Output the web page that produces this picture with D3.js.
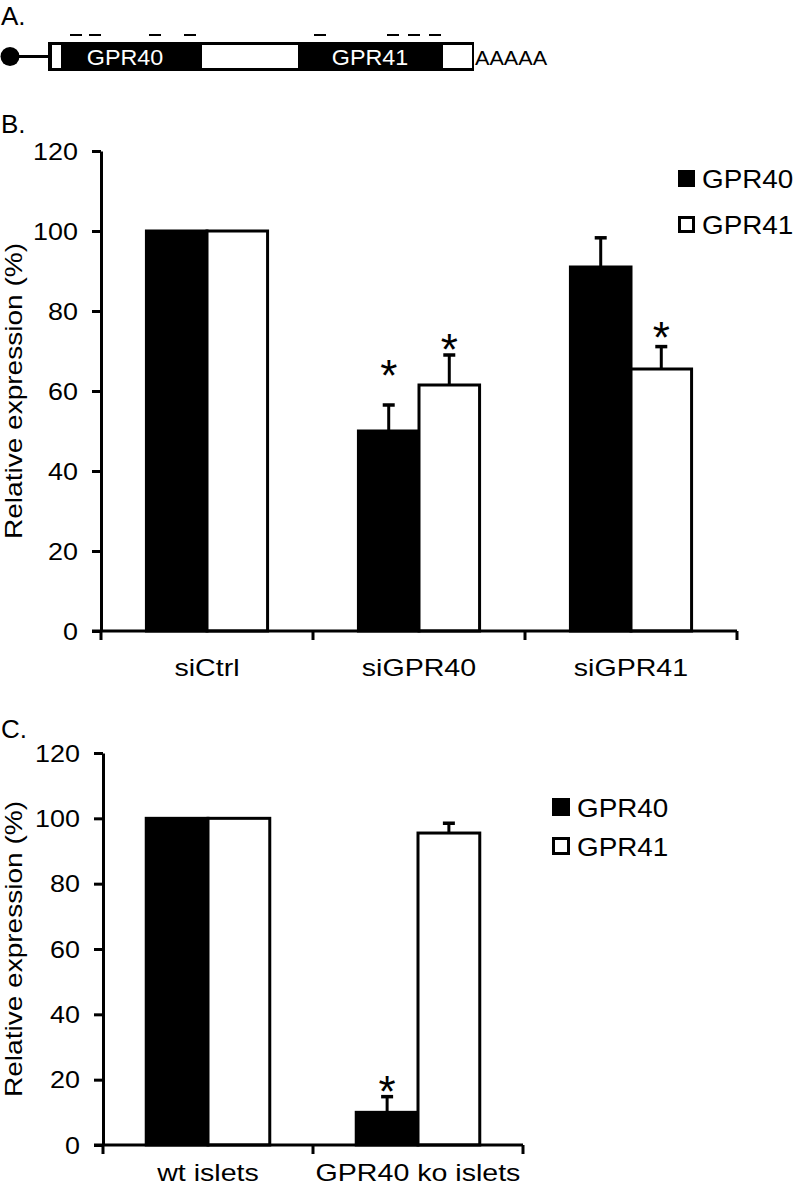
<!DOCTYPE html>
<html><head><meta charset="utf-8">
<script src="https://cdn.jsdelivr.net/npm/d3@7"></script>
<style>
body{margin:0;background:#fff;}
svg text{font-family:"Liberation Sans",Arial,Helvetica,sans-serif;fill:#000;}
</style></head>
<body><svg id="c" width="801" height="1186"></svg>
<script>
// ---------- data ----------
const seriesNames = ["GPR40", "GPR41"];
const yTicks = [0, 20, 40, 60, 80, 100, 120];

const categoriesB = ["siCtrl", "siGPR40", "siGPR41"];
const gpr40B = [100, 50, 91];
const gpr41B = [100, 61.5, 65.5];
const gpr40BErr = [0, 6.5, 7.3];
const gpr41BErr = [0, 7.5, 5.6];
const gpr40BStar = [null, 66.5, null];
const gpr41BStar = [null, 72.8, 76];

const categoriesC = ["wt islets", "GPR40 ko islets"];
const gpr40C = [100, 10];
const gpr41C = [100, 95.5];
const gpr40CErr = [0, 4.8];
const gpr41CErr = [0, 3];
const gpr40CStar = [null, 19.5];
const gpr41CStar = [null, null];

// schematic (panel A), transcript coordinates
const transcriptLen = 426;
const whiteSegs = [[4, 13], [154, 250], [395, 424]];
const geneLabels = [{t: "GPR40", c: 77}, {t: "GPR41", c: 322}];
const sirnaMarks = [22, 41, 101, 136, 266, 339, 360, 381];

// ---------- drawing ----------
const svg = d3.select("#c");
const FONT = '"Liberation Sans",Arial,Helvetica,sans-serif';

function stretch(sel, f) {
  sel.each(function() {
    const w = this.getComputedTextLength();
    d3.select(this).attr("textLength", w * f).attr("lengthAdjust", "spacingAndGlyphs");
  });
}

// Panel letters
svg.append("text").attr("x", 1).attr("y", 25).attr("font-size", 26).text("A.");
svg.append("text").attr("x", 1).attr("y", 133).attr("font-size", 26).text("B.");
svg.append("text").attr("x", 1).attr("y", 738).attr("font-size", 26).text("C.");

// ---------- Panel A ----------
(function(){
  const xs = d3.scaleLinear().domain([0, transcriptLen]).range([48, 474]);
  const top = 42, h = 29, midY = top + h / 2;
  const g = svg.append("g");
  g.append("line").attr("x1", 12).attr("x2", xs(0)).attr("y1", midY).attr("y2", midY)
    .attr("stroke", "#000").attr("stroke-width", 3);
  g.append("circle").attr("cx", 10).attr("cy", midY).attr("r", 9.5).attr("fill", "#000");
  g.append("rect").attr("x", xs(0)).attr("y", top).attr("width", xs(transcriptLen) - xs(0))
    .attr("height", h).attr("fill", "#000");
  g.selectAll("rect.w").data(whiteSegs).join("rect").attr("class", "w")
    .attr("x", d => xs(d[0])).attr("y", top + 3).attr("width", d => xs(d[1]) - xs(d[0]))
    .attr("height", h - 6).attr("fill", "#fff");
  const gl = g.selectAll("text.gl").data(geneLabels).join("text").attr("class", "gl")
    .attr("x", d => xs(d.c)).attr("y", midY + 8).attr("text-anchor", "middle")
    .attr("font-size", 22).style("fill", "#fff").text(d => d.t);
  stretch(gl, 1.06);
  const aa = g.append("text").attr("x", xs(transcriptLen) + 1).attr("y", midY + 8)
    .attr("font-size", 21).text("AAAAA");
  stretch(aa, 1.03);
  g.selectAll("line.m").data(sirnaMarks).join("line").attr("class", "m")
    .attr("x1", d => xs(d)).attr("x2", d => xs(d) + 12).attr("y1", 35).attr("y2", 35)
    .attr("stroke", "#000").attr("stroke-width", 2);
})();

// ---------- bar chart helper ----------
function barChart(opt) {
  const g = svg.append("g");
  const x = d3.scaleBand().domain(opt.categories).range([opt.x0, opt.x1]).padding(0);
  const xi = d3.scaleBand().domain(seriesNames).range([0, x.bandwidth()])
    .paddingInner(0).paddingOuter(opt.po);
  const y = d3.scaleLinear().domain([0, 120]).range([opt.y0, opt.y1]);

  const rows = [];
  opt.categories.forEach((c, i) => {
    rows.push({c, s: "GPR40", v: opt.v40[i], e: opt.e40[i], st: opt.s40[i]});
    rows.push({c, s: "GPR41", v: opt.v41[i], e: opt.e41[i], st: opt.s41[i]});
  });

  const eb = rows.filter(d => d.e > 0);
  g.selectAll("line.eb").data(eb).join("line").attr("class", "eb")
    .attr("x1", d => x(d.c) + xi(d.s) + xi.bandwidth() / 2)
    .attr("x2", d => x(d.c) + xi(d.s) + xi.bandwidth() / 2)
    .attr("y1", d => y(d.v)).attr("y2", d => y(d.v + d.e))
    .attr("stroke", "#000").attr("stroke-width", 3);
  g.selectAll("line.cap").data(eb).join("line").attr("class", "cap")
    .attr("x1", d => x(d.c) + xi(d.s) + xi.bandwidth() / 2 - 6)
    .attr("x2", d => x(d.c) + xi(d.s) + xi.bandwidth() / 2 + 6)
    .attr("y1", d => y(d.v + d.e)).attr("y2", d => y(d.v + d.e))
    .attr("stroke", "#000").attr("stroke-width", 3.5);

  g.selectAll("rect.bar").data(rows).join("rect").attr("class", "bar")
    .attr("x", d => x(d.c) + xi(d.s)).attr("width", xi.bandwidth())
    .attr("y", d => y(d.v)).attr("height", d => y(0) - y(d.v))
    .attr("fill", d => d.s === "GPR40" ? "#000" : "#fff")
    .attr("stroke", "#000").attr("stroke-width", 3);

  const FS = 44;
  g.selectAll("text.star").data(rows.filter(d => d.st != null)).join("text").attr("class", "star")
    .attr("x", d => x(d.c) + xi(d.s) + xi.bandwidth() / 2)
    .attr("y", d => y(d.st) + FS * 0.58).attr("text-anchor", "middle")
    .attr("font-size", FS).text("*");

  // y axis
  const ya = g.append("g").attr("transform", `translate(${opt.x0},0)`)
    .call(d3.axisLeft(y).tickValues(yTicks).tickSize(9).tickSizeOuter(0).tickPadding(14));
  ya.select(".domain").attr("stroke-width", 3);
  ya.selectAll(".tick line").attr("stroke-width", 3);
  const yt = ya.selectAll(".tick text").attr("font-size", 23).attr("font-family", FONT)
    .attr("dy", "0.36em").attr("fill", "#000");
  stretch(yt, 1.17);

  // x axis
  const xa = g.append("g").attr("transform", `translate(0,${opt.y0})`);
  xa.append("line").attr("x1", opt.x0 - 9).attr("x2", opt.x1).attr("stroke", "#000").attr("stroke-width", 3);
  const tks = opt.categories.map(c => x(c)).concat([opt.x1]);
  xa.selectAll("line.t").data(tks).join("line").attr("class", "t")
    .attr("x1", d => d).attr("x2", d => d).attr("y1", 0).attr("y2", 9)
    .attr("stroke", "#000").attr("stroke-width", 3);
  const xt = xa.selectAll("text").data(opt.categories).join("text")
    .attr("x", d => x(d) + x.bandwidth() / 2).attr("y", opt.catY - opt.y0)
    .attr("text-anchor", "middle").attr("font-size", 24).text(d => d);
  stretch(xt, 1.19);

  // axis title
  g.append("text").attr("transform", `translate(${opt.titleX},${(opt.y0 + opt.y1) / 2}) rotate(-90)`)
    .attr("text-anchor", "middle").attr("font-size", 24)
    .attr("textLength", 296).attr("lengthAdjust", "spacingAndGlyphs")
    .text("Relative expression (%)");

  // legend
  const lg = g.append("g");
  seriesNames.forEach((s, i) => {
    const yy = opt.legY + i * opt.legGap;
    lg.append("rect").attr("x", opt.legX + 1.5).attr("y", yy - opt.legS + 1.5)
      .attr("width", opt.legS - 3).attr("height", opt.legS - 3)
      .attr("fill", s === "GPR40" ? "#000" : "#fff").attr("stroke", "#000").attr("stroke-width", 3);
    const t = lg.append("text").attr("x", opt.legX + opt.legS + 7).attr("y", yy + 1)
      .attr("font-size", 26).text(s);
    stretch(t, 1.07);
  });
}

barChart({categories: categoriesB, v40: gpr40B, v41: gpr41B, e40: gpr40BErr, e41: gpr41BErr,
  s40: gpr40BStar, s41: gpr41BStar, x0: 101, x1: 737, y0: 631, y1: 151, po: 0.75,
  catY: 676, titleX: 22, legX: 678, legY: 187, legGap: 46, legS: 17});

barChart({categories: categoriesC, v40: gpr40C, v41: gpr41C, e40: gpr40CErr, e41: gpr41CErr,
  s40: gpr40CStar, s41: gpr41CStar, x0: 103, x1: 523, y0: 1145, y1: 753, po: 0.7,
  catY: 1181, titleX: 22, legX: 552, legY: 816, legGap: 39, legS: 18});
</script></body></html>
